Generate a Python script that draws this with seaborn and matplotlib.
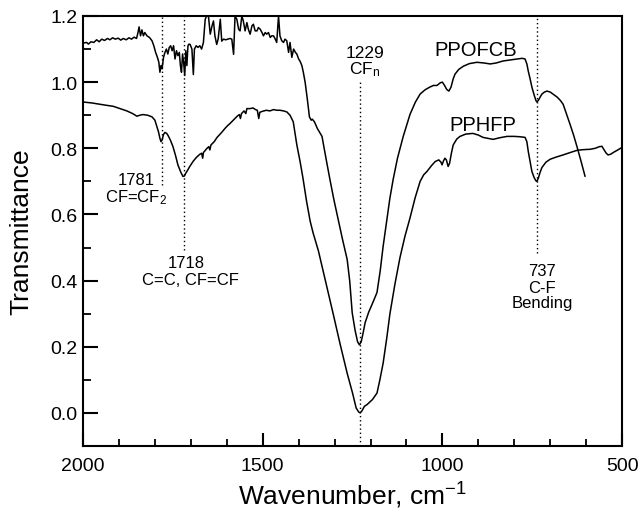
import numpy as np
import pandas as pd
import matplotlib
matplotlib.use("Agg")
import matplotlib.pyplot as plt
from matplotlib.ticker import MultipleLocator
import seaborn as sns

# ---------------- data ----------------
ppofcb_wn = [2000, 1990, 1985, 1978, 1970, 1962, 1955, 1948, 1940, 1932, 1925, 1918, 1910, 1902,
             1895, 1888, 1880, 1872, 1865, 1858, 1851, 1847, 1844, 1840, 1836, 1832, 1828, 1822,
             1815, 1808, 1803, 1798, 1793, 1789, 1786, 1783, 1780, 1776, 1772, 1768, 1764, 1760,
             1756, 1752, 1748, 1744, 1740, 1736, 1732, 1729, 1726, 1723, 1720, 1717, 1714, 1711,
             1708, 1705, 1702, 1697, 1693, 1690, 1685, 1680, 1675, 1670, 1665, 1660, 1656, 1651,
             1646, 1641, 1637, 1633, 1628, 1624, 1618, 1614, 1609, 1603, 1597, 1591, 1586, 1581,
             1577, 1572, 1567, 1563, 1558, 1554, 1549, 1544, 1540, 1535, 1530, 1526, 1521, 1516,
             1512, 1507, 1502, 1498, 1493, 1489, 1484, 1479, 1475, 1470, 1465, 1461, 1456, 1452,
             1447, 1442, 1438, 1433, 1428, 1424, 1419, 1414, 1409, 1405, 1400, 1396, 1391, 1387,
             1382, 1376, 1370, 1365, 1362, 1356, 1348, 1335, 1324, 1313, 1302, 1290, 1278, 1265,
             1258, 1251, 1243, 1236, 1231, 1226, 1220, 1215, 1205, 1195, 1182, 1173, 1165, 1155,
             1146, 1137, 1125, 1109, 1090, 1075, 1062, 1048, 1035, 1025, 1015, 1006, 1000, 994,
             988, 982, 976, 970, 965, 955, 942, 925, 904, 885, 867, 850, 831, 812, 792, 778, 770,
             765, 761, 756, 751, 745, 740, 737, 733, 728, 723, 716, 709, 700, 690, 681, 672, 664,
             655, 645, 635, 625, 614, 603]
ppofcb_t = [1.118, 1.120, 1.115, 1.122, 1.120, 1.128, 1.122, 1.130, 1.126, 1.132, 1.128, 1.134, 1.130, 1.133,
            1.127, 1.132, 1.128, 1.134, 1.130, 1.136, 1.132, 1.150, 1.167, 1.140, 1.158, 1.140, 1.150, 1.140,
            1.135, 1.125, 1.110, 1.090, 1.075, 1.060, 1.030, 1.050, 1.040, 1.075, 1.090, 1.100, 1.085, 1.105,
            1.110, 1.095, 1.110, 1.070, 1.095, 1.080, 1.090, 1.050, 1.030, 1.085, 1.060, 1.020, 1.095, 1.050,
            1.110, 1.115, 1.114, 1.100, 1.023, 1.100, 1.110, 1.105, 1.110, 1.100, 1.120, 1.190, 1.200, 1.200,
            1.145, 1.170, 1.185, 1.140, 1.114, 1.130, 1.190, 1.124, 1.130, 1.128, 1.130, 1.132, 1.130, 1.084,
            1.200, 1.190, 1.160, 1.155, 1.200, 1.185, 1.155, 1.180, 1.160, 1.145, 1.170, 1.175, 1.155, 1.155,
            1.165, 1.160, 1.150, 1.140, 1.150, 1.145, 1.150, 1.135, 1.140, 1.140, 1.130, 1.120, 1.200, 1.140,
            1.125, 1.120, 1.130, 1.125, 1.090, 1.120, 1.075, 1.100, 1.090, 1.085, 1.070, 1.063, 1.050, 1.030,
            1.000, 0.950, 0.895, 0.885, 0.888, 0.880, 0.860, 0.836, 0.770, 0.706, 0.645, 0.585, 0.525, 0.464,
            0.400, 0.303, 0.250, 0.215, 0.206, 0.215, 0.245, 0.273, 0.305, 0.330, 0.364, 0.430, 0.503, 0.580,
            0.650, 0.706, 0.770, 0.836, 0.903, 0.940, 0.964, 0.977, 0.985, 0.990, 0.990, 0.998, 1.000, 0.990,
            0.978, 0.973, 0.985, 1.010, 1.024, 1.038, 1.048, 1.056, 1.060, 1.058, 1.055, 1.058, 1.064, 1.067,
            1.070, 1.072, 1.070, 1.055, 1.033, 1.010, 0.985, 0.962, 0.945, 0.940, 0.945, 0.955, 0.964, 0.970,
            0.973, 0.970, 0.962, 0.955, 0.945, 0.933, 0.905, 0.873, 0.840, 0.803, 0.760, 0.715]

pphfp_wn = [2000, 1975, 1953, 1935, 1916, 1897, 1878, 1862, 1850, 1842, 1833, 1820, 1808, 1800, 1795,
            1790, 1786, 1783, 1780, 1776, 1772, 1767, 1763, 1757, 1750, 1743, 1736, 1728, 1722, 1718,
            1714, 1711, 1703, 1694, 1685, 1675, 1670, 1667, 1665, 1655, 1650, 1647, 1644, 1635, 1627,
            1615, 1605, 1599, 1590, 1580, 1571, 1565, 1562, 1559, 1552, 1547, 1544, 1535, 1527, 1520,
            1515, 1511, 1508, 1500, 1490, 1480, 1470, 1460, 1452, 1442, 1433, 1424, 1415, 1405, 1396,
            1388, 1378, 1368, 1360, 1345, 1332, 1318, 1304, 1285, 1265, 1250, 1240, 1233, 1229, 1224,
            1217, 1210, 1195, 1182, 1174, 1165, 1155, 1146, 1132, 1118, 1104, 1090, 1076, 1062, 1052,
            1043, 1030, 1020, 1010, 1004, 1001, 997, 993, 989, 984, 980, 975, 970, 960, 951, 935, 915,
            900, 887, 873, 859, 840, 820, 800, 785, 770, 765, 761, 756, 751, 745, 740, 737, 733, 728,
            723, 712, 700, 682, 664, 645, 625, 607, 589, 575, 563, 556, 550, 544, 539, 532, 525, 512, 500]
pphfp_t = [0.940, 0.937, 0.933, 0.930, 0.927, 0.920, 0.913, 0.905, 0.897, 0.900, 0.902, 0.900, 0.895, 0.885, 0.867,
           0.850, 0.830, 0.820, 0.825, 0.842, 0.848, 0.845, 0.838, 0.825, 0.806, 0.780, 0.750, 0.728, 0.715, 0.716,
           0.725, 0.730, 0.745, 0.760, 0.772, 0.782, 0.785, 0.770, 0.787, 0.800, 0.805, 0.795, 0.810, 0.820, 0.833,
           0.847, 0.860, 0.867, 0.876, 0.887, 0.897, 0.902, 0.890, 0.905, 0.913, 0.905, 0.920, 0.920, 0.922, 0.917,
           0.915, 0.890, 0.909, 0.912, 0.915, 0.913, 0.917, 0.915, 0.915, 0.913, 0.910, 0.900, 0.880, 0.810, 0.760,
           0.710, 0.640, 0.580, 0.545, 0.490, 0.430, 0.365, 0.300, 0.210, 0.120, 0.060, 0.015, 0.003, 0.000, 0.006,
           0.020, 0.025, 0.040, 0.060, 0.100, 0.150, 0.225, 0.300, 0.390, 0.470, 0.535, 0.590, 0.650, 0.700, 0.720,
           0.730, 0.748, 0.760, 0.765, 0.758, 0.750, 0.762, 0.770, 0.765, 0.745, 0.755, 0.785, 0.810, 0.828, 0.836, 0.843, 0.845,
           0.840, 0.833, 0.830, 0.827, 0.832, 0.836, 0.836, 0.835, 0.833, 0.820, 0.790, 0.760, 0.730, 0.712, 0.702, 0.700, 0.710, 0.728,
           0.742, 0.758, 0.767, 0.774, 0.780, 0.787, 0.794, 0.796, 0.797, 0.800, 0.805, 0.806, 0.795, 0.785, 0.780, 0.782, 0.787, 0.795, 0.803]

peak_wn = [1781, 1718, 1229, 737]
peak_lo = [0.69, 0.494, -0.1, 0.485]
peak_hi = [1.2, 1.2, 1.0, 1.2]

x_ticks = [2000, 1500, 1000, 500]
y_ticks = [0.0, 0.2, 0.4, 0.6, 0.8, 1.0, 1.2]

# ---------------- plotting ----------------
sns.set_style("ticks")
plt.rcParams["font.family"] = ["Liberation Sans", "DejaVu Sans"]
plt.rcParams["mathtext.fontset"] = "custom"
plt.rcParams["mathtext.rm"] = "Liberation Sans"
plt.rcParams["mathtext.it"] = "Liberation Sans"
plt.rcParams["text.color"] = "black"
plt.rcParams["axes.labelcolor"] = "black"
plt.rcParams["xtick.color"] = "black"
plt.rcParams["ytick.color"] = "black"
plt.rcParams["axes.edgecolor"] = "black"

df = pd.concat([
    pd.DataFrame({"wn": ppofcb_wn, "T": ppofcb_t, "sample": "PPOFCB"}),
    pd.DataFrame({"wn": pphfp_wn, "T": pphfp_t, "sample": "PPHFP"}),
], ignore_index=True)

fig = plt.figure(figsize=(6.42, 5.10), dpi=100)
ax = fig.add_axes([0.1293, 0.1235, 0.9690 - 0.1293, 0.9667 - 0.1235])

sns.lineplot(data=df, x="wn", y="T", hue="sample", units="sample", estimator=None,
             sort=False, palette={"PPOFCB": "black", "PPHFP": "black"},
             linewidth=1.1, legend=False, ax=ax)

ax.vlines(peak_wn, peak_lo, peak_hi, colors="black", linestyles=(0, (1, 2)), linewidth=1.0)

ax.set_xlim(2000, 500)
ax.set_ylim(-0.1, 1.2)
ax.set_xticks(x_ticks)
ax.set_yticks(y_ticks)
ax.set_yticklabels([f"{v:.1f}" for v in y_ticks])
ax.xaxis.set_minor_locator(MultipleLocator(100))
ax.yaxis.set_minor_locator(MultipleLocator(0.1))
ax.tick_params(axis="both", which="both", direction="in", color="black",
               labelcolor="black", labelsize=14)
ax.tick_params(axis="y", which="major", length=11, width=1.5, pad=4)
ax.tick_params(axis="y", which="minor", length=6, width=1.3)
ax.tick_params(axis="x", which="major", length=9.5, width=1.5, pad=8)
ax.tick_params(axis="x", which="minor", length=5, width=1.3)
for s in ax.spines.values():
    s.set_linewidth(1.5)
    s.set_color("black")
    s.set_visible(True)

ax.set_xlabel("Wavenumber, cm$^{\\mathrm{-1}}$", fontsize=19, labelpad=4, color="black")
ax.set_ylabel("Transmittance", fontsize=19, labelpad=12, color="black")

fs = 12
ax.text(1852, 0.706, "1781", ha="center", va="center", fontsize=fs)
ax.text(1852, 0.655, "CF=CF$_2$", ha="center", va="center", fontsize=fs)
ax.text(1713, 0.455, "1718", ha="center", va="center", fontsize=fs)
ax.text(1700, 0.403, "C=C, CF=CF", ha="center", va="center", fontsize=fs)
ax.text(1215, 1.09, "1229", ha="center", va="center", fontsize=12.5)
ax.text(1215, 1.04, "CF$_\\mathrm{n}$", ha="center", va="center", fontsize=12.5)
ax.text(723, 0.43, "737", ha="center", va="center", fontsize=fs)
ax.text(723, 0.38, "C-F", ha="center", va="center", fontsize=fs)
ax.text(723, 0.333, "Bending", ha="center", va="center", fontsize=fs)
ax.text(906, 1.10, "PPOFCB", ha="center", va="center", fontsize=14.5)
ax.text(887, 0.873, "PPHFP", ha="center", va="center", fontsize=14.5)

fig.savefig("out.png", dpi=100)
